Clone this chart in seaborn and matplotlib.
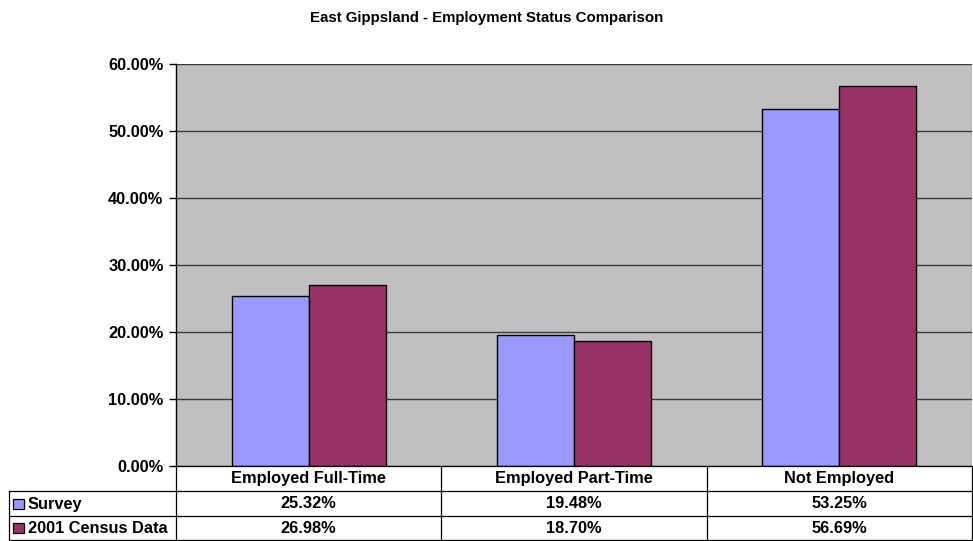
import matplotlib
matplotlib.use("Agg")
import matplotlib.pyplot as plt
import matplotlib.transforms as mtransforms
from matplotlib.lines import Line2D
from matplotlib.patches import Rectangle
import seaborn as sns
import pandas as pd

# Data
categories = ["Employed Full-Time", "Employed Part-Time", "Not Employed"]
series_names = ["Survey", "2001 Census Data"]
survey = [25.32, 19.48, 53.25]
census = [26.98, 18.70, 56.69]
yticks = [0, 10, 20, 30, 40, 50, 60]
title = "East Gippsland - Employment Status Comparison"

colors = ["#9999FF", "#993366"]

df = pd.DataFrame({
    "category": categories * 2,
    "series": [series_names[0]] * 3 + [series_names[1]] * 3,
    "value": survey + census,
})

sns.set_theme(style="white")
plt.rcParams["font.family"] = ["Liberation Sans", "DejaVu Sans"]
plt.rcParams["font.weight"] = "bold"
plt.rcParams["text.color"] = "black"
plt.rcParams["ytick.color"] = "black"

W, H = 973, 541
fig = plt.figure(figsize=(W / 100, H / 100), dpi=100)

left_px, right_px, top_px, bottom_px = 176, 972, 64, 466
ax = fig.add_axes([left_px / W, 1 - bottom_px / H,
                   (right_px - left_px) / W, (bottom_px - top_px) / H])
ax.set_facecolor("#C0C0C0")

sns.barplot(data=df, x="category", y="value", hue="series",
            palette=colors, width=0.58, edgecolor="black", linewidth=1.0,
            saturation=1, legend=False, ax=ax, zorder=3)

FS = 11.8
ax.set_xlim(-0.5, 2.5)
ax.set_ylim(0, 60)
ax.set_yticks(yticks)
ax.set_yticklabels([f"{v:.2f}%" for v in yticks], fontsize=FS, fontweight="bold",
                   color="black")
ax.set_xticks([])
ax.set_xlabel("")
ax.set_ylabel("")
ax.grid(axis="y", color="#3a3a3a", linewidth=1.0, zorder=1)
ax.set_axisbelow(True)
ax.tick_params(axis="y", which="both", left=True, length=5, width=1, color="black",
               direction="out", pad=4)
for side in ["top", "right", "bottom"]:
    ax.spines[side].set_visible(False)
ax.spines["left"].set_color("black")
ax.spines["left"].set_linewidth(1.0)

fig.text(0.5, 1 - 18 / H, title, ha="center", va="center",
         fontsize=10.8, fontweight="bold", color="black")

# Data table beneath the plot area: x follows the bar axis, y in figure pixels
trans = mtransforms.blended_transform_factory(ax.transData, fig.transFigure)
def fy(px):
    return 1 - px / H

row_lines = [466, 491, 516, 540]
col_edges = [-0.5, 0.5, 1.5, 2.5]
label_left = 9 / W

line_kw = dict(color="black", linewidth=0.9)
# horizontal rules
for i, y in enumerate(row_lines):
    x_start = left_px / W if i == 0 else label_left
    fig.add_artist(Line2D([x_start, right_px / W], [fy(y), fy(y)],
                          transform=fig.transFigure, **line_kw))
# vertical rules
for c in col_edges:
    fig.add_artist(Line2D([c, c], [fy(466), fy(540)], transform=trans, **line_kw))
fig.add_artist(Line2D([label_left, label_left], [fy(491), fy(540)],
                      transform=fig.transFigure, **line_kw))

# header row
for i, cat in enumerate(categories):
    fig.text(i, fy(479), cat, transform=trans, ha="center", va="center",
             fontsize=FS, fontweight="bold", color="black")

# series rows
rows = [survey, census]
row_centers = [504, 528.5]
for r, (name, vals, col) in enumerate(zip(series_names, rows, colors)):
    yc = row_centers[r]
    sw = 10
    fig.add_artist(Rectangle((13 / W, fy(yc + sw / 2 - 0.5)), 11 / W, sw / H,
                             transform=fig.transFigure, facecolor=col,
                             edgecolor="black", linewidth=0.9))
    fig.text(28 / W, fy(yc), name, ha="left", va="center",
             fontsize=FS, fontweight="bold", color="black")
    for i, v in enumerate(vals):
        fig.text(i, fy(yc), f"{v:.2f}%", transform=trans, ha="center",
                 va="center", fontsize=FS, fontweight="bold", color="black")

fig.savefig("out.png", dpi=100)
